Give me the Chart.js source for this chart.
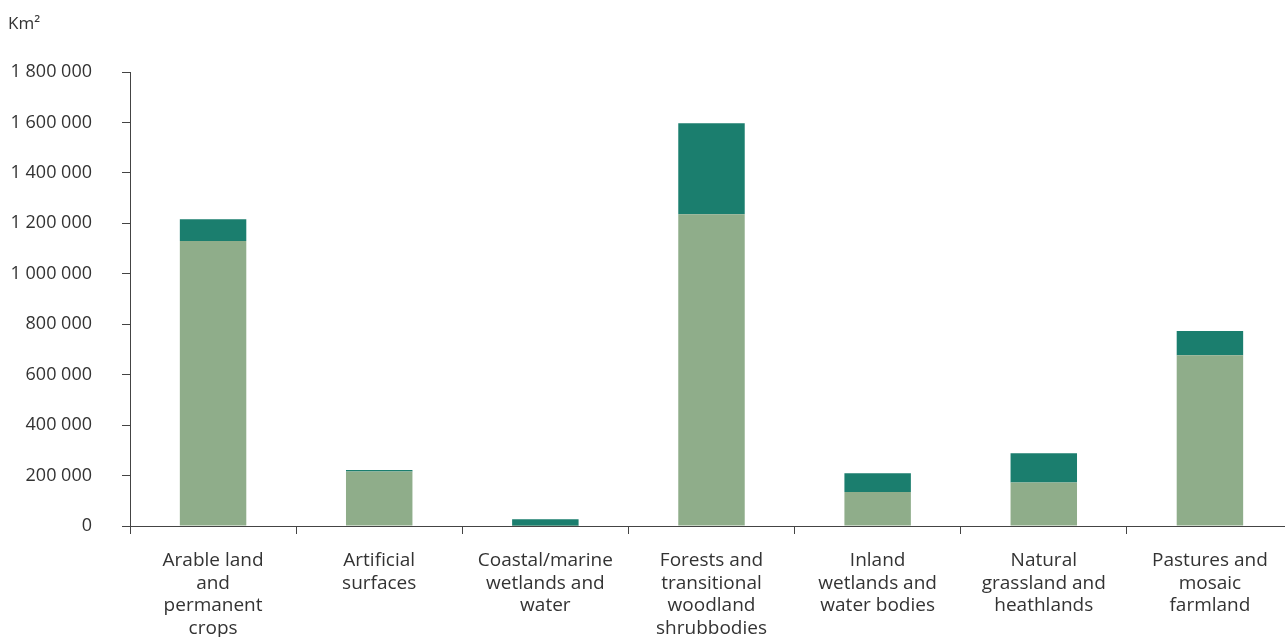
<!DOCTYPE html>
<html>
<head>
<meta charset="utf-8">
<script src="https://cdn.jsdelivr.net/npm/chart.js@4"></script>
<style>
  html, body { margin: 0; padding: 0; background: #fff; overflow: hidden; }
  #wrap { position: relative; width: 1293px; height: 637px; }
</style>
</head>
<body>
<div id="wrap"><canvas id="barChart" width="1293" height="637"></canvas></div>
<script>
const categories = [
    ["Arable land", "and", "permanent", "crops"],
    ["Artificial", "surfaces"],
    ["Coastal/marine", "wetlands and", "water"],
    ["Forests and", "transitional", "woodland", "shrubbodies"],
    ["Inland", "wetlands and", "water bodies"],
    ["Natural", "grassland and", "heathlands"],
    ["Pastures and", "mosaic", "farmland"]
];
const lowerValues = [1130000, 216000, 1000, 1236000, 135000, 172000, 677000];
const upperValues = [86000, 6000, 25500, 361000, 74000, 116000, 96000];
const yTicks = [0, 200000, 400000, 600000, 800000, 1000000, 1200000, 1400000, 1600000, 1800000];

const textColor = "#333333";
const axisColor = "#444444";

const unitLabel = {
    id: "unitLabel",
    afterDraw(chart) {
        const ctx = chart.ctx;
        ctx.save();
        ctx.font = "17px 'Open Sans', sans-serif";
        ctx.fillStyle = textColor;
        ctx.textBaseline = "alphabetic";
        ctx.fillText("Km\u00b2", 8, 29);
        ctx.restore();
    }
};

new Chart(document.getElementById("barChart"), {
    type: "bar",
    data: {
        labels: categories,
        datasets: [{
            label: "Lower",
            data: lowerValues,
            backgroundColor: "#8fad8a",
            barPercentage: 0.4,
            categoryPercentage: 1
        }, {
            label: "Upper",
            data: upperValues,
            backgroundColor: "#1b7e6e",
            barPercentage: 0.4,
            categoryPercentage: 1
        }]
    },
    options: {
        responsive: false,
        animation: false,
        layout: { padding: { top: 72, right: 0, left: 0, bottom: 0 } },
        plugins: {
            legend: { display: false },
            tooltip: { enabled: false }
        },
        scales: {
            x: {
                stacked: true,
                offset: true,
                border: { display: true, color: axisColor, width: 1 },
                grid: {
                    offset: true,
                    drawOnChartArea: false,
                    drawTicks: true,
                    tickLength: 8,
                    color: axisColor
                },
                ticks: {
                    color: textColor,
                    font: { family: "'Open Sans', sans-serif", size: 19, lineHeight: 1.2 },
                    padding: 15,
                    maxRotation: 0,
                    autoSkip: false
                },
                afterFit(scale) { scale.height = 111; }
            },
            y: {
                stacked: true,
                min: 0,
                max: 1800000,
                border: { display: true, color: axisColor, width: 1 },
                grid: {
                    drawOnChartArea: false,
                    drawTicks: true,
                    tickLength: 8,
                    color: axisColor
                },
                afterBuildTicks(scale) {
                    scale.ticks = yTicks.map(v => ({ value: v }));
                },
                ticks: {
                    color: textColor,
                    font: { family: "'Open Sans', sans-serif", size: 18 },
                    padding: 30,
                    callback: v => v.toString().replace(/\B(?=(\d{3})+(?!\d))/g, " ")
                },
                afterFit(scale) { scale.width = 130; }
            }
        }
    },
    plugins: [unitLabel]
});
</script>
</body>
</html>
